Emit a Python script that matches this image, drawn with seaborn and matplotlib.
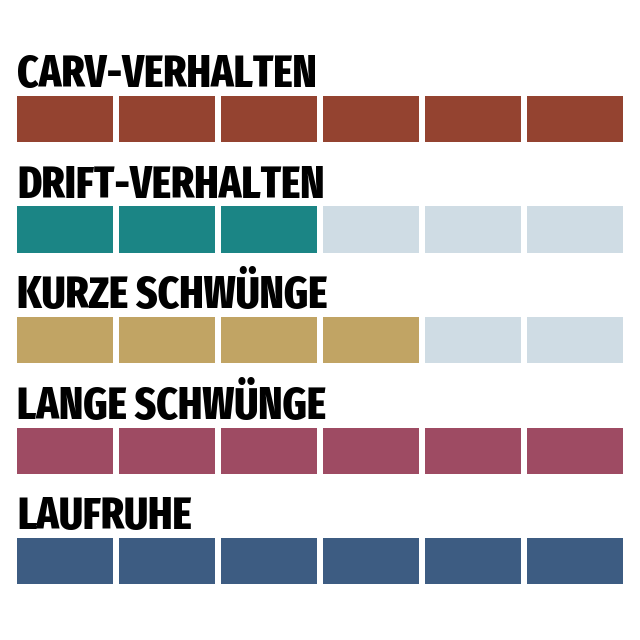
import numpy as np
import pandas as pd
import matplotlib
matplotlib.use("Agg")
import matplotlib.pyplot as plt
from matplotlib.colors import ListedColormap
import seaborn as sns

labels = ["CARV-VERHALTEN", "DRIFT-VERHALTEN", "KURZE SCHWÜNGE", "LANGE SCHWÜNGE", "LAUFRUHE"]
scores = [6, 3, 4, 6, 6]
max_score = 6
colors = ["#944330", "#1b8585", "#c1a464", "#9e4b63", "#3d5c82"]
empty_color = "#cfdce4"

sns.set_theme(style="white")
plt.rcParams["font.family"] = ["Fira Sans Extra Condensed", "DejaVu Sans"]

W = H = 640
fig = plt.figure(figsize=(6.4, 6.4), dpi=100)
fig.patch.set_facecolor("white")

gap = 6          # white gap between blocks, px
left, right = 17, 623
bar_h = 46
first_top = 96
pitch = 110.5

for i, (lab, sc, col) in enumerate(zip(labels, scores, colors)):
    top = first_top + i * pitch
    # axes grown by half the gap on each side, the cell edges eat it back
    x0 = left - gap / 2
    x1 = right + gap / 2
    y0 = top - gap / 2
    y1 = top + bar_h + gap / 2
    ax = fig.add_axes([x0 / W, 1 - y1 / H, (x1 - x0) / W, (y1 - y0) / H])
    row = pd.DataFrame([[1 if k < sc else 0 for k in range(max_score)]])
    cmap = ListedColormap([empty_color, col])
    sns.heatmap(row, ax=ax, cmap=cmap, vmin=0, vmax=1, cbar=False,
                linewidths=gap * 72 / 100, linecolor="white",
                xticklabels=False, yticklabels=False)
    ax.set_xlabel("")
    ax.set_ylabel("")
    fig.text(left / W, 1 - (top - 9) / H, lab, fontsize=32,
             fontweight="heavy", color="black", ha="left", va="baseline")

fig.savefig("out.png", dpi=100, facecolor="white")
